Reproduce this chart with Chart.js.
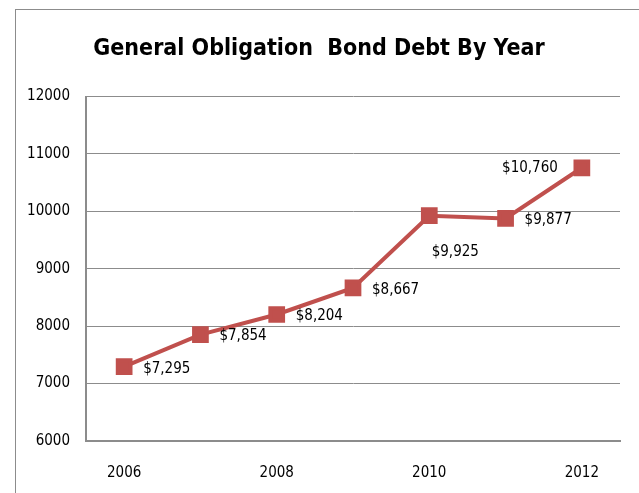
<!DOCTYPE html>
<html>
<head>
<meta charset="utf-8">
<script src="https://cdn.jsdelivr.net/npm/chart.js@4.4.0/dist/chart.umd.min.js"></script>
<style>
  html, body { margin: 0; padding: 0; background: #fff; }
  #wrap { width: 639px; height: 493px; }
</style>
</head>
<body>
<div id="wrap"><canvas id="debtChart" width="639" height="493"></canvas></div>
<script>
const years = ['2006', '2007', '2008', '2009', '2010', '2011', '2012'];
const debt = [7295, 7854, 8204, 8667, 9925, 9877, 10760];
const yTicks = [6000, 7000, 8000, 9000, 10000, 11000, 12000];
// where Excel put each data label
const labelSide = ['right', 'right', 'right', 'right', 'below', 'right', 'left'];

const fontName = '"DejaVu Sans Condensed", "DejaVu Sans", sans-serif';
const lineRed = '#C0504D';
const gridGray = '#8c8c8c';

// outer chart frame, runs off the right and bottom edge like the source
const framePlugin = {
    id: 'frame',
    beforeDraw(chart) {
        const c = chart.ctx;
        c.save();
        c.strokeStyle = '#8c8c8c';
        c.lineWidth = 1;
        c.strokeRect(15.5, 9.5, 700, 600);
        c.restore();
    }
};

const valueLabels = {
    id: 'valueLabels',
    afterDatasetsDraw(chart) {
        const c = chart.ctx;
        const pts = chart.getDatasetMeta(0).data;
        c.save();
        c.font = '15px ' + fontName;
        c.fillStyle = '#000';
        c.textBaseline = 'middle';
        pts.forEach((p, i) => {
            const txt = '$' + debt[i].toLocaleString('en-US');
            const side = labelSide[i];
            if (side === 'right') {
                c.textAlign = 'left';
                c.fillText(txt, p.x + 19, p.y + 2);
            } else if (side === 'left') {
                c.textAlign = 'right';
                c.fillText(txt, p.x - 24, p.y);
            } else {
                c.textAlign = 'center';
                c.fillText(txt, p.x + 26, p.y + 36);
            }
        });
        c.restore();
    }
};

new Chart(document.getElementById('debtChart'), {
    type: 'line',
    data: {
        labels: years,
        datasets: [{
            data: debt,
            borderColor: lineRed,
            backgroundColor: lineRed,
            borderWidth: 4,
            pointStyle: 'rect',
            pointRadius: 9,
            pointHoverRadius: 9,
            tension: 0
        }]
    },
    options: {
        responsive: false,
        animation: false,
        layout: { padding: { left: 18, right: 19, top: 0, bottom: 0 } },
        plugins: {
            legend: { display: false },
            tooltip: { enabled: false },
            title: {
                display: true,
                text: 'General Obligation  Bond Debt By Year',
                color: '#000',
                font: { family: fontName, size: 23, weight: 'bold' },
                padding: { top: 35, bottom: 34 }
            }
        },
        scales: {
            x: {
                offset: true,
                grid: { display: false, drawTicks: false },
                border: { color: gridGray, width: 2 },
                ticks: {
                    autoSkip: false,
                    maxRotation: 0,
                    padding: 23,
                    color: '#000',
                    font: { family: fontName, size: 15 },
                    callback: (v, i) => (i % 2 === 0 ? years[i] : '')
                },
                afterFit: s => { s.height = 52; }
            },
            y: {
                min: 6000,
                max: 12000,
                afterBuildTicks: s => { s.ticks = yTicks.map(v => ({ value: v })); },
                grid: { color: gridGray, lineWidth: 1, drawTicks: false },
                border: { color: gridGray, width: 2 },
                ticks: {
                    padding: 16,
                    color: '#000',
                    font: { family: fontName, size: 15 },
                    callback: v => String(v)
                },
                afterFit: s => { s.width = 68; }
            }
        }
    },
    plugins: [framePlugin, valueLabels]
});
</script>
</body>
</html>
